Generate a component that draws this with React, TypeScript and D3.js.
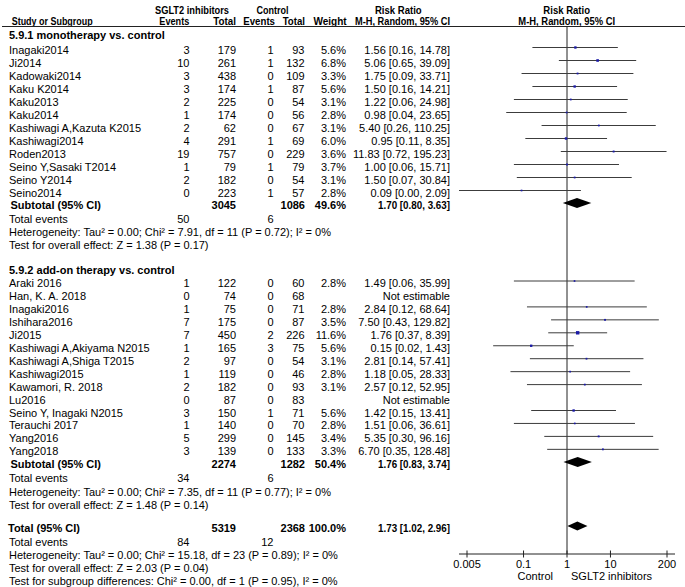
import React from 'react'
import * as d3 from 'd3'

// 5.9.1 monotherapy vs. control
const monoNames = ['Inagaki2014', 'Ji2014', 'Kadowaki2014', 'Kaku K2014', 'Kaku2013', 'Kaku2014', 'Kashiwagi A,Kazuta K2015', 'Kashiwagi2014', 'Roden2013', 'Seino Y,Sasaki T2014', 'Seino Y2014', 'Seino2014']
const monoEvents = [3, 10, 3, 3, 2, 1, 2, 4, 19, 1, 2, 0]
const monoTotal = [179, 261, 438, 174, 225, 174, 62, 291, 757, 79, 182, 223]
const monoCtrlEvents = [1, 1, 0, 1, 0, 0, 0, 1, 0, 1, 0, 1]
const monoCtrlTotal = [93, 132, 109, 87, 54, 56, 67, 69, 229, 79, 54, 57]
const monoWeight = [5.6, 6.8, 3.3, 5.6, 3.1, 2.8, 3.1, 6.0, 3.6, 3.7, 3.1, 2.8]
const monoRR = [1.56, 5.06, 1.75, 1.5, 1.22, 0.98, 5.4, 0.95, 11.83, 1.0, 1.5, 0.09]
const monoLo = [0.16, 0.65, 0.09, 0.16, 0.06, 0.04, 0.26, 0.11, 0.72, 0.06, 0.07, 0.0]
const monoHi = [14.78, 39.09, 33.71, 14.21, 24.98, 23.65, 110.25, 8.35, 195.23, 15.71, 30.84, 2.09]

// 5.9.2 add-on therapy vs. control
const addNames = ['Araki 2016', 'Han, K. A. 2018', 'Inagaki2016', 'Ishihara2016', 'Ji2015', 'Kashiwagi A,Akiyama N2015', 'Kashiwagi A,Shiga T2015', 'Kashiwagi2015', 'Kawamori, R. 2018', 'Lu2016', 'Seino Y, Inagaki N2015', 'Terauchi 2017', 'Yang2016', 'Yang2018']
const addEvents = [1, 0, 1, 7, 7, 1, 2, 1, 2, 0, 3, 1, 5, 3]
const addTotal = [122, 74, 75, 175, 450, 165, 97, 119, 182, 87, 150, 140, 299, 139]
const addCtrlEvents = [0, 0, 0, 0, 2, 3, 0, 0, 0, 0, 1, 0, 0, 0]
const addCtrlTotal = [60, 68, 71, 87, 226, 75, 54, 46, 93, 83, 71, 70, 145, 133]
const addWeight = [2.8, null, 2.8, 3.5, 11.6, 5.6, 3.1, 2.8, 3.1, null, 5.6, 2.8, 3.4, 3.3]
const addRR = [1.49, null, 2.84, 7.5, 1.76, 0.15, 2.81, 1.18, 2.57, null, 1.42, 1.51, 5.35, 6.7]
const addLo = [0.06, null, 0.12, 0.43, 0.37, 0.02, 0.14, 0.05, 0.12, null, 0.15, 0.06, 0.3, 0.35]
const addHi = [35.99, null, 68.64, 129.82, 8.39, 1.43, 57.41, 28.33, 52.95, null, 13.41, 36.61, 96.16, 128.48]

// pooled results: [total SGLT2, total control, weight, rr, lo, hi, events SGLT2, events control]
const monoPooled = [3045, 1086, 49.6, 1.7, 0.8, 3.63, 50, 6]
const addPooled = [2274, 1282, 50.4, 1.76, 0.83, 3.74, 34, 6]
const allPooled = [5319, 2368, 100.0, 1.73, 1.02, 2.96, 84, 12]

const monoHet = 'Heterogeneity: Tau² = 0.00; Chi² = 7.91, df = 11 (P = 0.72); I² = 0%'
const monoTest = 'Test for overall effect: Z = 1.38 (P = 0.17)'
const addHet = 'Heterogeneity: Tau² = 0.00; Chi² = 7.35, df = 11 (P = 0.77); I² = 0%'
const addTest = 'Test for overall effect: Z = 1.48 (P = 0.14)'
const allHet = 'Heterogeneity: Tau² = 0.00; Chi² = 15.18, df = 23 (P = 0.89); I² = 0%'
const allTest = 'Test for overall effect: Z = 2.03 (P = 0.04)'
const subgroupTest = 'Test for subgroup differences: Chi² = 0.00, df = 1 (P = 0.95), I² = 0%'

const tickValues = [0.005, 0.1, 1, 10, 200]

const W = 685
const H = 587
const FONT = '"Liberation Sans", Arial, sans-serif'

const x = d3.scaleLog().domain([0.005, 200]).range([467, 667])
const plotL = 459
const plotR = 675
const px = (v: number) => (v <= 0 ? plotL : Math.max(plotL, Math.min(plotR, x(v))))

// column anchors
const colLabel = 9
const colEvT = 189.5
const colTotT = 236
const colEvC = 273.5
const colTotC = 304.5
const colW = 346
const colCI = 450

const f2 = (v: number) => v.toFixed(2)
const ciText = (r: number, l: number, h: number) => `${f2(r)} [${f2(l)}, ${f2(h)}]`

// text helper; `len` squeezes the bold header runs to the width they have in the reference
const T = ({ x, y, anchor = 'start', bold = false, len, children }: any) => (
  <text
    x={x}
    y={y}
    textAnchor={anchor}
    fontWeight={bold ? 'bold' : 'normal'}
    textLength={len}
    lengthAdjust={len ? 'spacingAndGlyphs' : undefined}
  >
    {children}
  </text>
)

function StudyRows({ names, ev, tot, cev, ctot, w, rr, lo, hi, y0, step }: any) {
  return (
    <g>
      {names.map((n: string, i: number) => {
        const y = y0 + i * step
        const ly = y - 6
        const est = rr[i] != null
        const s = est ? Math.sqrt(w[i]) : 0
        return (
          <g key={n}>
            <T x={colLabel} y={y}>{n}</T>
            <T x={colEvT} y={y} anchor="end">{ev[i]}</T>
            <T x={colTotT} y={y} anchor="end">{tot[i]}</T>
            <T x={colEvC} y={y} anchor="end">{cev[i]}</T>
            <T x={colTotC} y={y} anchor="end">{ctot[i]}</T>
            {est && <T x={colW} y={y} anchor="end">{w[i].toFixed(1)}%</T>}
            <T x={colCI} y={y} anchor="end">{est ? ciText(rr[i], lo[i], hi[i]) : 'Not estimable'}</T>
            {est && (
              <>
                <line x1={px(lo[i])} x2={px(hi[i])} y1={ly} y2={ly} stroke="#3c3c3c" strokeWidth={1} />
                <rect x={x(rr[i]) - s / 2} y={ly - s / 2} width={s} height={s} fill="#1a1aa6" />
              </>
            )}
          </g>
        )
      })}
    </g>
  )
}

function Pooled({ label, labelX, p, y, ey, h }: any) {
  const ly = y - 6
  const d = `M${x(p[4])},${ly} L${x(p[3])},${ly - h} L${x(p[5])},${ly} L${x(p[3])},${ly + h} Z`
  return (
    <g>
      <T x={labelX} y={y} bold>{label}</T>
      <T x={colTotT} y={y} anchor="end" bold>{p[0]}</T>
      <T x={colTotC + 0.5} y={y} anchor="end" bold>{p[1]}</T>
      <T x={colW} y={y} anchor="end" bold>{p[2].toFixed(1)}%</T>
      <T x={colCI} y={y} anchor="end" bold len={72}>{ciText(p[3], p[4], p[5])}</T>
      <path d={d} fill="#000" />
      <T x={colLabel} y={ey}>Total events</T>
      <T x={colEvT} y={ey} anchor="end">{p[6]}</T>
      <T x={colEvC} y={ey} anchor="end">{p[7]}</T>
    </g>
  )
}

export default function App() {
  return (
    <svg
      width={W}
      height={H}
      style={{ position: 'absolute', left: 0, top: 0, background: '#fff' }}
      fontFamily={FONT}
      fontSize={11}
      fill="#000"
    >
      {/* header */}
      <T x={192} y={14} anchor="middle" bold len={74}>SGLT2 inhibitors</T>
      <T x={272.5} y={14} anchor="middle" bold len={32}>Control</T>
      <T x={398.3} y={14} anchor="middle" bold len={46.7}>Risk Ratio</T>
      <T x={566.7} y={14} anchor="middle" bold len={46.7}>Risk Ratio</T>
      <T x={11.7} y={25} bold len={81}>Study or Subgroup</T>
      <T x={189.3} y={25} anchor="end" bold len={30}>Events</T>
      <T x={236} y={25} anchor="end" bold len={22.7}>Total</T>
      <T x={275} y={25} anchor="end" bold len={31.7}>Events</T>
      <T x={305} y={25} anchor="end" bold len={22.3}>Total</T>
      <T x={346.7} y={25} anchor="end" bold len={33.3}>Weight</T>
      <T x={colCI} y={25} anchor="end" bold len={95}>M-H, Random, 95% CI</T>
      <T x={566.7} y={25} anchor="middle" bold len={96.7}>M-H, Random, 95% CI</T>
      <line x1={2} x2={W} y1={26.5} y2={26.5} stroke="#222" />

      {/* null line */}
      <line x1={x(1)} x2={x(1)} y1={26.5} y2={554} stroke="#222" />

      {/* subgroup 1 */}
      <T x={colLabel} y={38.5} bold>5.9.1 monotherapy vs. control</T>
      <StudyRows names={monoNames} ev={monoEvents} tot={monoTotal} cev={monoCtrlEvents} ctot={monoCtrlTotal}
        w={monoWeight} rr={monoRR} lo={monoLo} hi={monoHi} y0={53.5} step={13} />
      <Pooled label="Subtotal (95% CI)" labelX={10.5} p={monoPooled} y={209} ey={222.5} h={5} />
      <T x={colLabel} y={235.5}>{monoHet}</T>
      <T x={colLabel} y={248.5}>{monoTest}</T>

      {/* subgroup 2 */}
      <T x={colLabel} y={274} bold>5.9.2 add-on therapy vs. control</T>
      <StudyRows names={addNames} ev={addEvents} tot={addTotal} cev={addCtrlEvents} ctot={addCtrlTotal}
        w={addWeight} rr={addRR} lo={addLo} hi={addHi} y0={287} step={12.95} />
      <Pooled label="Subtotal (95% CI)" labelX={10.5} p={addPooled} y={468} ey={482} h={5} />
      <T x={colLabel} y={495.5}>{addHet}</T>
      <T x={colLabel} y={508.5}>{addTest}</T>

      {/* overall */}
      <Pooled label="Total (95% CI)" labelX={8} p={allPooled} y={532} ey={545.5} h={4.5} />
      <T x={colLabel} y={558.5}>{allHet}</T>
      <T x={colLabel} y={571.5}>{allTest}</T>
      <T x={colLabel} y={584.5}>{subgroupTest}</T>

      {/* axis */}
      <line x1={plotL} x2={plotR} y1={554} y2={554} stroke="#222" />
      {tickValues.map((t) => (
        <g key={t}>
          <line x1={x(t)} x2={x(t)} y1={550.5} y2={557.5} stroke="#222" />
          <T x={x(t)} y={568} anchor="middle">{String(t)}</T>
        </g>
      ))}
      <T x={x(1) - 14} y={580} anchor="end">Control</T>
      <T x={x(1) + 4} y={580}>SGLT2 inhibitors</T>
    </svg>
  )
}
